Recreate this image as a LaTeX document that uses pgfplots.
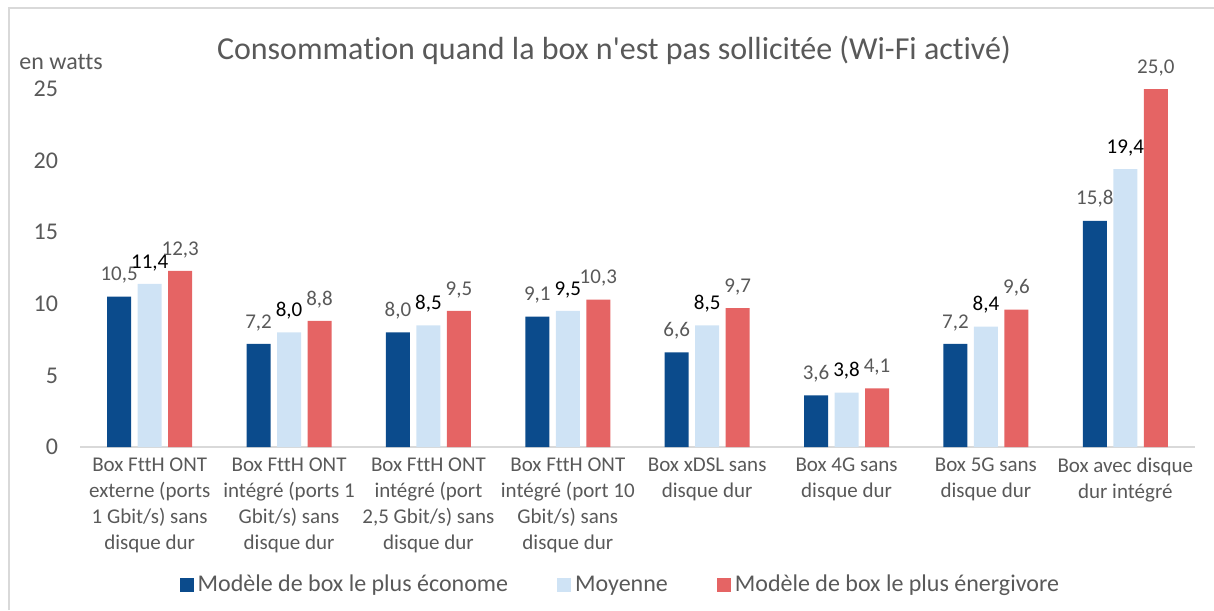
\documentclass[border=0pt]{standalone}
\usepackage{pgfplots}
\pgfplotsset{compat=1.18}
\usepackage{fontspec}
\setmainfont{Carlito}[Ligatures=CommonOff]
\definecolor{cblue}{RGB}{11,75,140}
\definecolor{clight}{RGB}{207,227,245}
\definecolor{cred}{RGB}{229,100,100}
\definecolor{ctext}{RGB}{89,89,89}
\definecolor{cline}{RGB}{217,217,217}
\begin{document}
\begin{tikzpicture}
\useasboundingbox (0pt,0pt) rectangle (607pt,-305pt);
\draw[cline, line width=1pt] (4.25pt,-305pt) -- (4.25pt,-4.25pt) -- (607pt,-4.25pt);
\node[font=\fontsize{16}{19}\selectfont, text=ctext, anchor=base] at (307pt,-30pt) {Consommation quand la box n\textquotesingle est pas sollicitée (Wi-Fi activé)};
\node[font=\fontsize{12}{14}\selectfont, text=ctext, anchor=base west, inner sep=0pt] at (9.5pt,-35pt) {en watts};
\begin{axis}[
  at={(40pt,-223.5pt)}, anchor=south west,
  scale only axis, width=557.5pt, height=179pt,
  xmin=-0.5, xmax=7.5, ymin=0, ymax=25,
  clip=false,
  ybar=3.25pt, bar width=12pt,
  axis lines*=left,
  x axis line style={draw=cline, line width=1pt, -},
  y axis line style={draw=none},
  major tick length=0pt,
  xtick=data,
  ytick={0,5,10,15,20,25},
  /pgf/number format/assume math mode=true,
  yticklabel style={font=\fontsize{12}{14}\selectfont, text=ctext, anchor=east, xshift=-7.5pt},
  xticklabel style={font=\fontsize{10.5}{13}\selectfont, text=ctext, align=center, anchor=north, yshift=-2pt},
  xticklabels={
    {Box FttH ONT\\externe (ports\\1 Gbit/s) sans\\disque dur},
    {Box FttH ONT\\intégré (ports 1\\Gbit/s) sans\\disque dur},
    {Box FttH ONT\\intégré (port\\2,5 Gbit/s) sans\\disque dur},
    {Box FttH ONT\\intégré (port 10\\Gbit/s) sans\\disque dur},
    {Box xDSL sans\\disque dur},
    {Box 4G sans\\disque dur},
    {Box 5G sans\\disque dur},
    {Box avec disque\\dur intégré}},
  nodes near coords={\pgfmathprintnumber[fixed,fixed zerofill,precision=1,use comma,assume math mode=true]{\pgfplotspointmeta}},
  every node near coord/.append style={font=\fontsize{10.5}{12}\selectfont, yshift=3pt},
  legend style={at={(0.0836,-0.385)}, anchor=west, draw=none, fill=none,
    font=\fontsize{12}{14}\selectfont, text=ctext, legend columns=-1,
    /tikz/every even column/.append style={column sep=22.5pt}},
  legend image code/.code={\fill[#1] (0pt,-3.5pt) rectangle (7pt,3.5pt);},
]
\addplot[fill=cblue, draw=none, every node near coord/.append style={text=ctext}] coordinates {
 (0,10.5) (1,7.2) (2,8.0) (3,9.1) (4,6.6) (5,3.6) (6,7.2) (7,15.8)};
\addplot[fill=clight, draw=none, every node near coord/.append style={text=black}] coordinates {
 (0,11.4) (1,8.0) (2,8.5) (3,9.5) (4,8.5) (5,3.8) (6,8.4) (7,19.4)};
\addplot[fill=cred, draw=none, every node near coord/.append style={text=ctext}] coordinates {
 (0,12.3) (1,8.8) (2,9.5) (3,10.3) (4,9.7) (5,4.1) (6,9.6) (7,25.0)};
\legend{Modèle de box le plus économe, Moyenne, Modèle de box le plus énergivore}
\end{axis}
\end{tikzpicture}
\end{document}
